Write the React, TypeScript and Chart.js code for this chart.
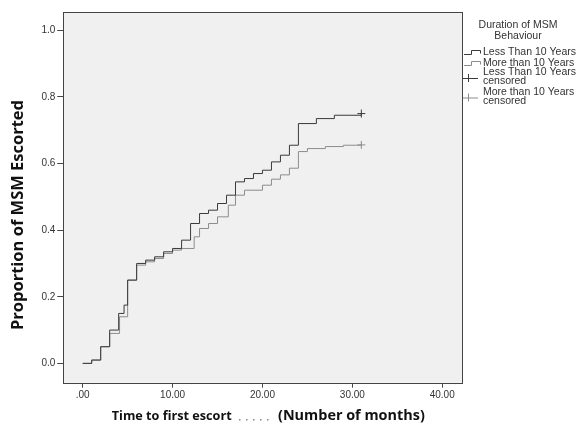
import React, { useEffect, useRef } from "react";
import { Chart, registerables } from "chart.js";

Chart.register(...registerables);

// Kaplan-Meier style cumulative proportions
const lessTimes = [0, 1, 2, 3, 4, 4.6, 5, 6, 7, 8, 9, 10, 11, 12, 13, 14, 15, 16, 17, 18, 19, 20, 21, 22, 23, 24, 26, 28, 31];
const lessValues = [0, 0.01, 0.05, 0.1, 0.15, 0.175, 0.25, 0.3, 0.31, 0.32, 0.335, 0.345, 0.37, 0.42, 0.45, 0.46, 0.48, 0.505, 0.545, 0.555, 0.57, 0.58, 0.605, 0.625, 0.655, 0.72, 0.735, 0.745, 0.75];

const moreTimes = [0, 1, 2, 3, 4.1, 5, 6, 7, 8, 9, 10, 11, 12.4, 13, 14, 15, 16.2, 17, 18, 20, 21, 22, 23, 24, 25, 27, 29, 31];
const moreValues = [0, 0.01, 0.05, 0.09, 0.14, 0.25, 0.295, 0.305, 0.315, 0.33, 0.34, 0.345, 0.38, 0.405, 0.42, 0.44, 0.475, 0.505, 0.52, 0.535, 0.553, 0.566, 0.586, 0.636, 0.645, 0.651, 0.655, 0.656];

const lessCensoredTimes = [31];
const lessCensoredValues = [0.75];
const moreCensoredTimes = [31];
const moreCensoredValues = [0.656];

const xTickValues = [0, 10, 20, 30, 40];
const yTickValues = [0, 0.2, 0.4, 0.6, 0.8, 1.0];

const legendTitle = ["Duration of MSM", "Behaviour"];
const legendLabels = [
  ["Less Than 10 Years"],
  ["More than 10 Years"],
  ["Less Than 10 Years", "censored"],
  ["More than 10 Years", "censored"],
];

const xTitleLeft = "Time to first escort";
const xTitleDots = ".....";
const xTitleRight = "(Number of months)";
const yTitle = "Proportion of MSM Escorted";

const COLOR_LESS = "#3a3a3a";
const COLOR_MORE = "#8c8c8c";
const TITLE_FONT = "'Open Sans', Lato, sans-serif";

const toXY = (ts: number[], vs: number[]) => ts.map((t, i) => ({ x: t, y: vs[i] }));

const fitFont = (ctx: any, text: string, width: number, base: number) => {
  ctx.font = `bold ${base}px ${TITLE_FONT}`;
  const w = ctx.measureText(text).width;
  return (base * width) / w;
};

const frame = {
  id: "frame",
  beforeDraw(chart: any) {
    const { ctx, chartArea: a } = chart;
    ctx.save();
    ctx.fillStyle = "#f0f0f0";
    ctx.fillRect(a.left, a.top, a.right - a.left, a.bottom - a.top);
    ctx.restore();
  },
  afterDraw(chart: any) {
    const { ctx, chartArea: a } = chart;
    ctx.save();
    ctx.strokeStyle = "#444";
    ctx.lineWidth = 1;
    ctx.strokeRect(Math.round(a.left) + 0.5, Math.round(a.top) + 0.5, Math.round(a.right - a.left), Math.round(a.bottom - a.top));

    // axis titles
    ctx.fillStyle = "#111";
    ctx.textBaseline = "alphabetic";
    ctx.textAlign = "left";
    const sx = fitFont(ctx, xTitleLeft, 120, 13);
    ctx.font = `bold ${sx}px ${TITLE_FONT}`;
    ctx.fillText(xTitleLeft, 111.7, 420);
    const sr = fitFont(ctx, xTitleRight, 147, 13);
    ctx.font = `bold ${sr}px ${TITLE_FONT}`;
    ctx.fillText(xTitleRight, 278, 420);
    ctx.fillStyle = "#8a8a8a";
    for (let i = 0; i < xTitleDots.length; i++) ctx.fillRect(239 + i * 7, 419, 1.5, 1.5);

    ctx.fillStyle = "#111";
    ctx.font = `bold 16.5px ${TITLE_FONT}`;
    ctx.translate(18, 215);
    ctx.rotate(-Math.PI / 2);
    ctx.textAlign = "center";
    ctx.textBaseline = "middle";
    ctx.fillText(yTitle, 0, 0);
    ctx.setTransform(1, 0, 0, 1, 0, 0);

    // legend
    ctx.font = "10.5px 'Liberation Sans', Arial, sans-serif";
    ctx.fillStyle = "#333";
    ctx.textBaseline = "middle";
    ctx.textAlign = "center";
    ctx.fillText(legendTitle[0], 518, 25);
    ctx.fillText(legendTitle[1], 518, 36.5);
    ctx.textAlign = "left";
    const rows = [52, 63, 72.5, 92];
    legendLabels.forEach((lines, i) => {
      lines.forEach((ln, j) => ctx.fillText(ln, 483, rows[i] + j * 9));
    });
    ctx.lineWidth = 1;
    const stepIcon = (y: number, color: string) => {
      ctx.strokeStyle = color;
      ctx.beginPath();
      ctx.moveTo(464, y + 2.5);
      ctx.lineTo(471.5, y + 2.5);
      ctx.lineTo(471.5, y - 1.5);
      ctx.lineTo(480.5, y - 1.5);
      ctx.lineTo(480.5, y + 1.5);
      ctx.stroke();
    };
    stepIcon(52, COLOR_LESS);
    stepIcon(63, COLOR_MORE);
    const crossIcon = (y: number, color: string) => {
      ctx.strokeStyle = color;
      ctx.beginPath();
      ctx.moveTo(463, y + 0.5);
      ctx.lineTo(478, y + 0.5);
      ctx.moveTo(468.5, y - 4);
      ctx.lineTo(468.5, y + 4);
      ctx.stroke();
    };
    crossIcon(78, COLOR_LESS);
    crossIcon(97.5, COLOR_MORE);
    ctx.restore();
  },
};

export default function App() {
  const ref = useRef<HTMLCanvasElement>(null);
  useEffect(() => {
    if (!ref.current) return;
    const chart = new Chart(ref.current, {
      type: "line",
      data: {
        datasets: [
          {
            label: "Less Than 10 Years",
            data: toXY(lessTimes, lessValues),
            borderColor: COLOR_LESS,
            borderWidth: 1,
            stepped: "before",
            pointRadius: 0,
            fill: false,
          },
          {
            label: "More than 10 Years",
            data: toXY(moreTimes, moreValues),
            borderColor: COLOR_MORE,
            borderWidth: 1,
            stepped: "before",
            pointRadius: 0,
            fill: false,
          },
          {
            label: "Less Than 10 Years censored",
            data: toXY(lessCensoredTimes, lessCensoredValues),
            showLine: false,
            borderColor: COLOR_LESS,
            pointStyle: "cross",
            pointRadius: 4,
            pointBorderWidth: 1,
          },
          {
            label: "More than 10 Years censored",
            data: toXY(moreCensoredTimes, moreCensoredValues),
            showLine: false,
            borderColor: COLOR_MORE,
            pointStyle: "cross",
            pointRadius: 4,
            pointBorderWidth: 1,
          },
        ] as any,
      },
      options: {
        animation: false,
        responsive: true,
        maintainAspectRatio: false,
        layout: { padding: { left: 0, right: 114, top: 12, bottom: 0 } },
        plugins: { legend: { display: false }, tooltip: { enabled: false } },
        scales: {
          x: {
            type: "linear",
            min: -2.16,
            max: 42.2,
            afterBuildTicks: (s: any) => {
              s.ticks = xTickValues.map((v) => ({ value: v }));
            },
            afterFit: (s: any) => {
              s.height = 44.3;
            },
            grid: { drawOnChartArea: false, drawTicks: true, tickLength: 5, color: "#444" },
            border: { display: false },
            ticks: {
              color: "#333",
              font: { family: "'Liberation Sans', Arial, sans-serif", size: 10 },
              padding: 2,
              maxRotation: 0,
              callback: (v: any) => (Number(v) === 0 ? ".00" : Number(v).toFixed(2)),
            },
            title: { display: false },
          },
          y: {
            type: "linear",
            min: -0.058,
            max: 1.055,
            afterBuildTicks: (s: any) => {
              s.ticks = yTickValues.map((v) => ({ value: v }));
            },
            afterFit: (s: any) => {
              s.width = 63.3;
            },
            grid: { drawOnChartArea: false, drawTicks: true, tickLength: 6, color: "#444" },
            border: { display: false },
            ticks: {
              color: "#333",
              font: { family: "'Liberation Sans', Arial, sans-serif", size: 10 },
              padding: 2,
              callback: (v: any) => Number(v).toFixed(1),
            },
            title: { display: false },
          },
        },
      },
      plugins: [frame],
    });
    return () => chart.destroy();
  }, []);
  return (
    <div style={{ position: "absolute", left: 0, top: 0, width: 576, height: 427, background: "#fff" }}>
      <canvas ref={ref} style={{ width: 576, height: 427 }} />
    </div>
  );
}
